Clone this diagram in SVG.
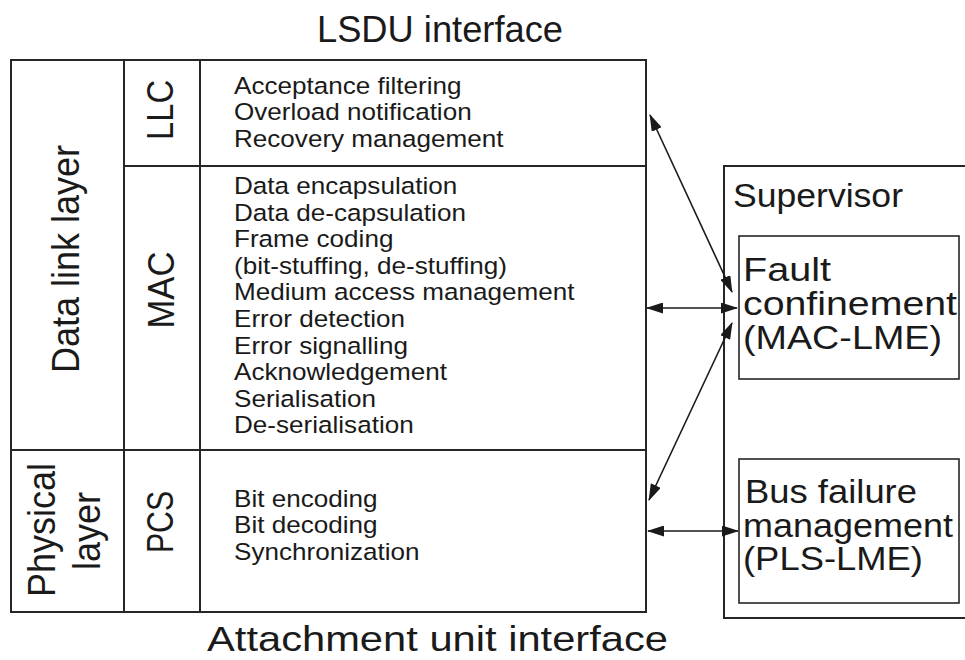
<svg xmlns="http://www.w3.org/2000/svg" width="965" height="660" viewBox="0 0 965 660">
<style>
  .ln { fill: none; stroke: #262626; stroke-width: 2; }
  .bx { fill: none; stroke: #262626; stroke-width: 1.6; }
  .t { font-family: "Liberation Sans", Arial, Helvetica, sans-serif; fill: #1a1a1a; }
  .body { font-size: 23.5px; }
  .big { font-size: 36px; }
  .mid { font-size: 34px; }
  .rt { font-size: 33px; }
  .ar { fill: none; stroke: #1a1a1a; stroke-width: 1.6; marker-start: url(#ah); marker-end: url(#ah); }
</style>
<defs>
  <marker id="ah" markerUnits="userSpaceOnUse" markerWidth="17" markerHeight="11" refX="16" refY="5.5" orient="auto-start-reverse">
    <path d="M0,0 L17,5.5 L0,11 Z" fill="#1a1a1a"/>
  </marker>
</defs>
<rect width="965" height="660" fill="#ffffff"/>

<g id="titles">
  <text class="t big" x="317" y="42" textLength="246" lengthAdjust="spacingAndGlyphs">LSDU interface</text>
  <text class="t" style="font-size:35px" x="207" y="651" textLength="461" lengthAdjust="spacingAndGlyphs">Attachment unit interface</text>
</g>

<g id="stack">
  <rect class="ln" x="11" y="60" width="635" height="552"/>
  <line class="ln" x1="124" y1="60" x2="124" y2="612"/>
  <line class="ln" x1="200" y1="60" x2="200" y2="612"/>
  <line class="ln" x1="124" y1="166" x2="646" y2="166"/>
  <line class="ln" x1="11" y1="450" x2="646" y2="450"/>
</g>

<g id="data-link-layer">
  <text class="t big" text-anchor="middle" transform="translate(79,259) scale(1.06,1) rotate(-90)">Data link layer</text>
</g>
<g id="physical-layer">
  <text class="t big" text-anchor="middle" transform="translate(55,530) scale(1.06,1) rotate(-90)">Physical</text>
  <text class="t big" text-anchor="middle" transform="translate(100,531) scale(1.06,1) rotate(-90)">layer</text>
</g>

<g id="llc">
  <text class="t mid" text-anchor="middle" transform="translate(173,110) scale(1.08,1) rotate(-90)" textLength="60" lengthAdjust="spacingAndGlyphs">LLC</text>
  <g transform="translate(234,0) scale(1.11,1)">
    <text class="t body" x="0" y="94">Acceptance filtering</text>
    <text class="t body" x="0" y="120.5">Overload notification</text>
    <text class="t body" x="0" y="147">Recovery management</text>
  </g>
</g>

<g id="mac">
  <text class="t mid" text-anchor="middle" transform="translate(174,290) scale(1.08,1) rotate(-90)" textLength="77" lengthAdjust="spacingAndGlyphs">MAC</text>
  <g transform="translate(234,0) scale(1.11,1)">
    <text class="t body" x="0" y="194">Data encapsulation</text>
    <text class="t body" x="0" y="220.6">Data de-capsulation</text>
    <text class="t body" x="0" y="247.2">Frame coding</text>
    <text class="t body" x="0" y="273.8">(bit-stuffing, de-stuffing)</text>
    <text class="t body" x="0" y="300.4">Medium access management</text>
    <text class="t body" x="0" y="327">Error detection</text>
    <text class="t body" x="0" y="353.6">Error signalling</text>
    <text class="t body" x="0" y="380.2">Acknowledgement</text>
    <text class="t body" x="0" y="406.8">Serialisation</text>
    <text class="t body" x="0" y="433.4">De-serialisation</text>
  </g>
</g>

<g id="pcs">
  <text class="t mid" text-anchor="middle" transform="translate(173,522) scale(1.08,1) rotate(-90)" textLength="62" lengthAdjust="spacingAndGlyphs">PCS</text>
  <g transform="translate(234,0) scale(1.11,1)">
    <text class="t body" x="0" y="507">Bit encoding</text>
    <text class="t body" x="0" y="533.5">Bit decoding</text>
    <text class="t body" x="0" y="560">Synchronization</text>
  </g>
</g>

<g id="supervisor">
  <rect class="ln" x="724" y="166" width="260" height="452"/>
  <text class="t rt" x="733" y="206.5" textLength="170" lengthAdjust="spacingAndGlyphs">Supervisor</text>
</g>

<g id="fault-confinement">
  <rect class="bx" x="739" y="236" width="220" height="143"/>
  <text class="t rt" x="743" y="281" textLength="88" lengthAdjust="spacingAndGlyphs">Fault</text>
  <text class="t rt" x="743" y="315" textLength="214" lengthAdjust="spacingAndGlyphs">confinement</text>
  <text class="t rt" x="743" y="349" textLength="199" lengthAdjust="spacingAndGlyphs">(MAC-LME)</text>
</g>

<g id="bus-failure-management">
  <rect class="bx" x="739" y="459" width="220" height="144"/>
  <text class="t rt" x="745" y="503" textLength="172" lengthAdjust="spacingAndGlyphs">Bus failure</text>
  <text class="t rt" x="743" y="536.5" textLength="210" lengthAdjust="spacingAndGlyphs">management</text>
  <text class="t rt" x="743" y="570" textLength="180" lengthAdjust="spacingAndGlyphs">(PLS-LME)</text>
</g>

<g id="connectors">
  <line class="ar" x1="650" y1="115" x2="732" y2="292"/>
  <line class="ar" x1="647" y1="308" x2="737" y2="308"/>
  <line class="ar" x1="732" y1="323" x2="649" y2="500"/>
  <line class="ar" x1="648" y1="531" x2="738" y2="531"/>
</g>
</svg>
